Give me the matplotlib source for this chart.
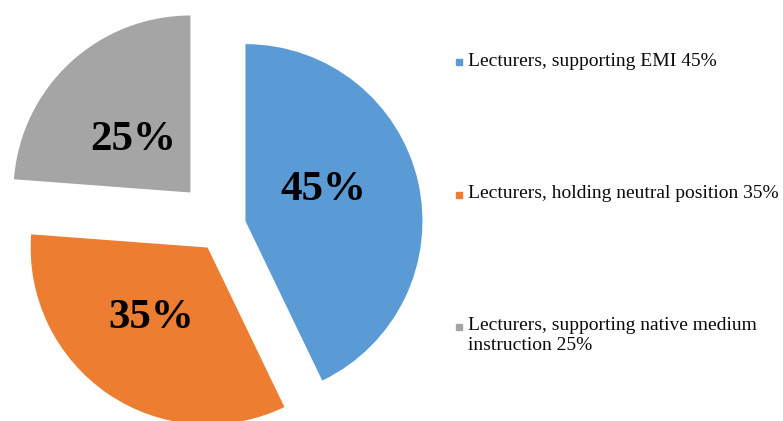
import numpy as np
import matplotlib
matplotlib.use("Agg")
import matplotlib.pyplot as plt

# Survey results: lecturers' stance on English-medium instruction (EMI)
categories = [
    "Lecturers, supporting EMI 45%",
    "Lecturers, holding neutral position 35%",
    "Lecturers, supporting native medium\ninstruction 25%",
]
values = [45, 35, 25]
colors = ["#5B9BD5", "#ED7D31", "#A5A5A5"]
explode_frac = [0.136, 0.144, 0.262]

W, H = 783, 421
fig = plt.figure(figsize=(W / 100, H / 100), dpi=100)
ax = fig.add_axes([0, 0, 1, 1])

R = 177
center = (222, H - 226.5)

# pie() offsets wedges by the explode amount in data units, so scale by R
wedges, _, pct_texts = ax.pie(
    values,
    colors=colors,
    explode=[e * R for e in explode_frac],
    startangle=90,
    counterclock=False,
    radius=R,
    center=center,
    autopct="%1.0f",
    pctdistance=0.48,
    wedgeprops=dict(linewidth=0),
    textprops=dict(fontsize=31, fontweight="bold", family="Liberation Serif",
                   color="black"),
)

# Percentage labels: text comes from the values, placed inside each wedge
label_dist = [0.478, 0.50, 0.455]
label_turn = [11.6, -6.5, 3.0]
for w, t, v, d, turn, ex in zip(wedges, pct_texts, values, label_dist,
                                label_turn, explode_frac):
    mid = np.deg2rad((w.theta1 + w.theta2) / 2)
    apex = np.array(center) + ex * R * np.array([np.cos(mid), np.sin(mid)])
    a = mid + np.deg2rad(turn)
    t.set_text(f"{v}%")
    t.set_position((apex[0] + d * R * np.cos(a) + 1,
                    apex[1] + d * R * np.sin(a) - 3.5))

ax.set_xlim(0, W)
ax.set_ylim(0, H)
ax.set_aspect("equal")
ax.axis("off")

# Legend on the right: square markers aligned with the first text line
legend_y = [62, 195, 327]
for lab, col, y in zip(categories, colors, legend_y):
    ax.plot([458.5], [H - y], marker="s", markersize=5, color=col,
            linestyle="none", clip_on=False)
    ax.text(468, H - y + 9.5, lab, fontsize=14, family="Liberation Serif",
            color="#0a0a0a", va="top", ha="left", linespacing=1.18)

fig.savefig("out.png", dpi=100)
